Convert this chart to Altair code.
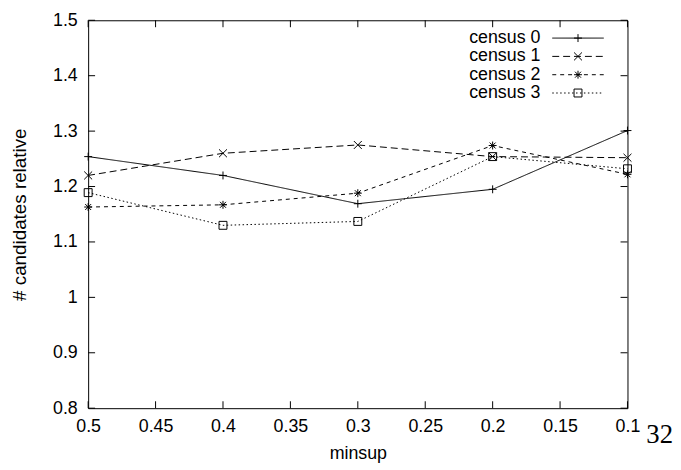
import altair as alt
import pandas as pd

# ---- data ----
minsup = [0.5, 0.4, 0.3, 0.2, 0.1]
series_names = ["census 0", "census 1", "census 2", "census 3"]
census0 = [1.254, 1.220, 1.169, 1.195, 1.301]
census1 = [1.220, 1.260, 1.275, 1.254, 1.252]
census2 = [1.163, 1.167, 1.188, 1.274, 1.222]
census3 = [1.189, 1.130, 1.137, 1.254, 1.232]
x_ticks = [0.5, 0.45, 0.4, 0.35, 0.3, 0.25, 0.2, 0.15, 0.1]
y_ticks = [0.8, 0.9, 1.0, 1.1, 1.2, 1.3, 1.4, 1.5]
page_number = ["32"]

W, H = 545, 392
FONT = "Liberation Sans"
FS = 18
TICK = 7

rows = []
for name, vals in zip(series_names, [census0, census1, census2, census3]):
    for x, y in zip(minsup, vals):
        rows.append({"series": name, "minsup": x, "value": y})
df = pd.DataFrame(rows)

dash_scale = alt.Scale(domain=series_names,
                       range=[[1, 0], [7, 4], [4, 4], [1.5, 2.5]])
plus = "M-1,0L1,0M0,-1L0,1"
cross = "M-1,-1L1,1M-1,1L1,-1"
star = "M-1,0L1,0M0,-1L0,1M-0.75,-0.75L0.75,0.75M-0.75,0.75L0.75,-0.75"
shape_scale = alt.Scale(domain=series_names, range=[plus, cross, star, "square"])

xscale = alt.Scale(domain=[0.1, 0.5], reverse=True, nice=False, zero=False)
yscale = alt.Scale(domain=[0.8, 1.5], nice=False, zero=False)

X = alt.X("minsup:Q", scale=xscale,
          axis=alt.Axis(values=x_ticks, format="~g", title="minsup", ticks=False,
                        domain=False, grid=False, labelPadding=10, labelFlush=False,
                        titleX=W / 2, titleY=51, titleBaseline="alphabetic"))
Y = alt.Y("value:Q", scale=yscale,
          axis=alt.Axis(values=y_ticks, format="~g", title="# candidates relative",
                        ticks=False, domain=False, grid=False, labelPadding=11,
                        labelFlush=False, titleFontSize=19,
                        titleX=-69, titleY=H / 2, titleBaseline="middle",
                        titleAngle=-90))

lines = alt.Chart(df).mark_line(color="black", strokeWidth=1).encode(
    x=X, y=Y,
    strokeDash=alt.StrokeDash("series:N", scale=dash_scale, legend=None),
    detail="series:N",
)
points = alt.Chart(df).mark_point(filled=False, color="black", strokeWidth=1,
                                  opacity=1, size=64).encode(
    x=X, y=Y,
    shape=alt.Shape("series:N", scale=shape_scale, legend=None),
)

xt = pd.DataFrame({"minsup": x_ticks})
yt = pd.DataFrame({"value": y_ticks})
xt_bottom = alt.Chart(xt).mark_rule(color="black", strokeWidth=1).encode(
    x=X, y=alt.value(H), y2=alt.value(H - TICK))
xt_top = alt.Chart(xt).mark_rule(color="black", strokeWidth=1).encode(
    x=X, y=alt.value(0), y2=alt.value(TICK))
yt_left = alt.Chart(yt).mark_rule(color="black", strokeWidth=1).encode(
    y=Y, x=alt.value(0), x2=alt.value(TICK))
yt_right = alt.Chart(yt).mark_rule(color="black", strokeWidth=1).encode(
    y=Y, x=alt.value(W - TICK), x2=alt.value(W))

pn = alt.Chart(pd.DataFrame({"t": page_number})).mark_text(
    font="Liberation Serif", fontSize=27, align="left", baseline="alphabetic",
    color="black").encode(text="t:N", x=alt.value(W + 19), y=alt.value(H + 35))

main = alt.layer(xt_bottom, xt_top, yt_left, yt_right, lines, points, pn)

# ---- key (gnuplot style: label, then sample) ----
leg_df = pd.DataFrame({"series": series_names, "row": [0, 1, 2, 3]})
LY = alt.Y("row:Q", scale=alt.Scale(domain=[0, 3], range=[18, 73.5],
                                    nice=False, zero=False), axis=None)
leg_line = alt.Chart(leg_df).mark_rule(color="black", strokeWidth=1).encode(
    x=alt.value(469), x2=alt.value(521), y=LY,
    strokeDash=alt.StrokeDash("series:N", scale=dash_scale, legend=None))
leg_pt = alt.Chart(leg_df).mark_point(filled=False, color="black", strokeWidth=1,
                                      opacity=1, size=64).encode(
    x=alt.value(495), y=LY,
    shape=alt.Shape("series:N", scale=shape_scale, legend=None))
leg_txt = alt.Chart(leg_df).mark_text(align="right", baseline="middle",
                                      font=FONT, fontSize=FS, color="black").encode(
    x=alt.value(457), y=LY, text="series:N")
legend = alt.layer(leg_line, leg_pt, leg_txt)

chart = alt.layer(main, legend).resolve_scale(y="independent").properties(
    width=W, height=H,
    autosize=alt.AutoSizeParams(type="none"),
    padding={"left": 81, "top": 10, "right": 46, "bottom": 55},
).configure_view(stroke="black", strokeWidth=1).configure_axis(
    labelFont=FONT, labelFontSize=FS, labelColor="black",
    titleFont=FONT, titleFontSize=FS, titleColor="black", titleFontWeight="normal",
)

chart.save("out.html", embed_options={"renderer": "svg", "actions": False})
